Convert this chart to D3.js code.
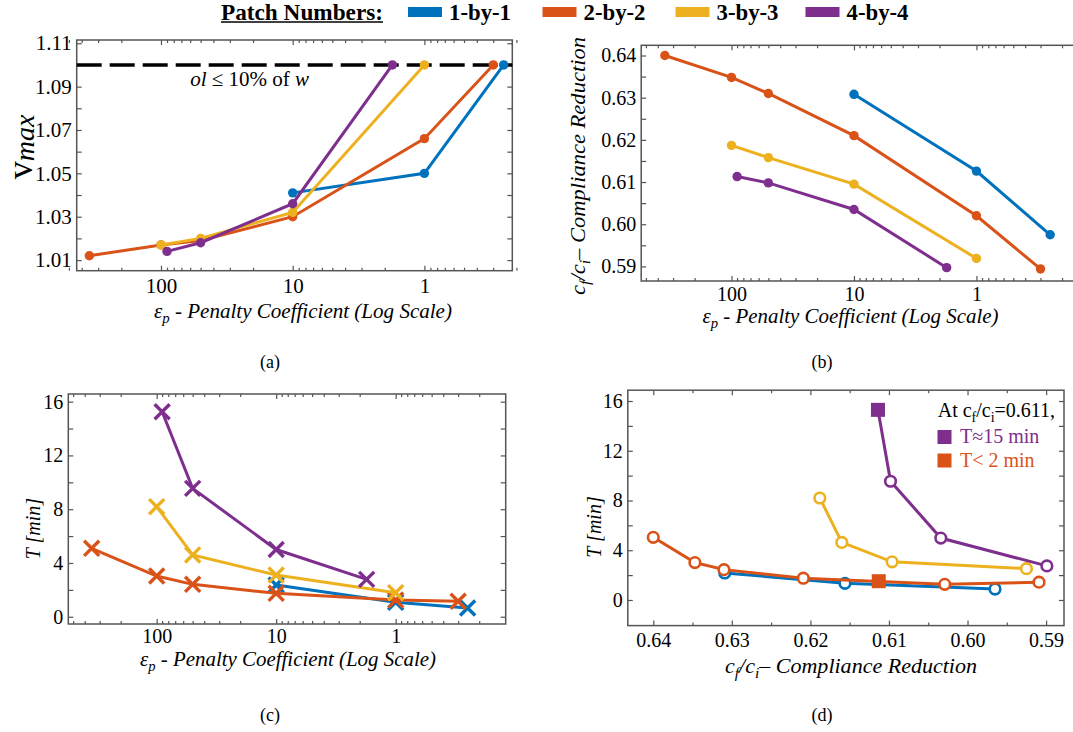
<!DOCTYPE html>
<html><head><meta charset="utf-8">
<script src="https://cdn.jsdelivr.net/npm/d3@7"></script>
<style>
body{margin:0;background:#fff;}
svg{display:block;}
svg text{font-family:"Liberation Serif","Times New Roman",serif !important;}
</style></head><body>
<svg id="chart" width="1073" height="732"></svg>
<script>
// ---------- data ----------
const patches = ["1-by-1", "2-by-2", "3-by-3", "4-by-4"];
const colors = ["#0072BD", "#D95319", "#EDB120", "#7E2F8E"];

// penalty coefficients per patch number
const penalty1 = [10, 1, 0.25];
const penalty2 = [350, 100, 50, 10, 1, 0.3];
const penalty3 = [100, 50, 10, 1];
const penalty4 = [90, 50, 10, 1.75];

// (a) maximum volume ratio
const vmax1 = [1.041, 1.050, 1.100];
const vmax2 = [1.012, 1.017, 1.019, 1.030, 1.066, 1.100];
const vmax3 = [1.017, 1.020, 1.032, 1.100];
const vmax4 = [1.014, 1.018, 1.036, 1.100];
const vLimit = 1.10;

// (b) compliance reduction
const comp1 = [0.6308, 0.6126, 0.5975];
const comp2 = [0.6400, 0.6348, 0.6310, 0.6210, 0.6020, 0.5894];
const comp3 = [0.6187, 0.6158, 0.6095, 0.5919];
const comp4 = [0.6113, 0.6098, 0.6035, 0.5897];

// (c) time [min]
const time1 = [2.36, 1.07, 0.65];
const time2 = [5.09, 3.03, 2.41, 1.74, 1.24, 1.15];
const time3 = [8.19, 4.60, 3.10, 1.79];
const time4 = [15.25, 9.55, 5.00, 2.78];

// (d) time vs compliance, as plotted
const dComp1 = [0.6309, 0.6156, 0.5965];
const dTime1 = [2.17, 1.34, 0.88];
const dComp2 = [0.6400, 0.6347, 0.6310, 0.6209, 0.6029, 0.5909];
const dTime2 = [5.04, 3.01, 2.44, 1.75, 1.26, 1.43];
const dComp3 = [0.6188, 0.6160, 0.6096, 0.5925];
const dTime3 = [8.20, 4.63, 3.07, 2.52];
const dComp4 = [0.6114, 0.6098, 0.6034, 0.5899];
const dTime4 = [15.29, 9.55, 4.98, 2.74];
const markComp = [0.6114, 0.6113];
const markTime = [15.29, 1.51];
const markColor = [3, 1];
const markLabels = ["T\u224815 min", "T< 2 min"];

// ticks
const logMajor = [100, 10, 1];
const logMinor = [500, 400, 300, 200, 90, 80, 70, 60, 50, 40, 30, 20, 9, 8, 7, 6, 5, 4, 3, 2,
  0.9, 0.8, 0.7, 0.6, 0.5, 0.4, 0.3, 0.2];
const aMajor = [1.01, 1.03, 1.05, 1.07, 1.09, 1.11];
const aMinor = [1.02, 1.04, 1.06, 1.08, 1.10];
const bMajor = [0.59, 0.60, 0.61, 0.62, 0.63, 0.64];
const bMinor = [0.595, 0.605, 0.615, 0.625, 0.635];
const tMajor = [0, 4, 8, 12, 16];
const tMinor = [2, 6, 10, 14];
const dMajor = [0.64, 0.63, 0.62, 0.61, 0.60, 0.59];
const dMinor = [0.635, 0.625, 0.615, 0.605, 0.595];

const penalties = [penalty1, penalty2, penalty3, penalty4];
const vmaxes = [vmax1, vmax2, vmax3, vmax4];
const comps = [comp1, comp2, comp3, comp4];
const times = [time1, time2, time3, time4];
const dComps = [dComp1, dComp2, dComp3, dComp4];
const dTimes = [dTime1, dTime2, dTime3, dTime4];

// ---------- drawing ----------
const svg = d3.select("#chart");
const FRAME = "#555";
const SERIF = "Liberation Serif, Times New Roman, serif";

function panel(o) {
  const g = svg.append("g");
  const x = (o.xLog ? d3.scaleLog() : d3.scaleLinear()).domain(o.xDomain).range([o.l, o.r]);
  const y = d3.scaleLinear().domain(o.yDomain).range([o.b, o.t]);
  const fs = o.fs || 20;
  function styl(ax) {
    ax.attr("font-family", SERIF).attr("font-size", fs);
    ax.select(".domain").remove();
    ax.selectAll(".tick line").attr("stroke", FRAME).attr("stroke-width", 1.2);
    ax.selectAll(".tick text").attr("fill", "#000");
  }
  const xb = g.append("g").attr("transform", `translate(0,${o.b})`)
    .call(d3.axisBottom(x).tickValues(o.xMajor).tickSize(-5).tickPadding(o.xPad || 7).tickFormat(o.xFmt));
  styl(xb);
  const xbm = g.append("g").attr("transform", `translate(0,${o.b})`)
    .call(d3.axisBottom(x).tickValues(o.xMinor).tickSize(-3).tickFormat(""));
  styl(xbm);
  const xt = g.append("g").attr("transform", `translate(0,${o.t})`)
    .call(d3.axisTop(x).tickValues(o.xMajor).tickSize(-5).tickFormat(""));
  styl(xt);
  const xtm = g.append("g").attr("transform", `translate(0,${o.t})`)
    .call(d3.axisTop(x).tickValues(o.xMinor).tickSize(-3).tickFormat(""));
  styl(xtm);
  const yl = g.append("g").attr("transform", `translate(${o.l},0)`)
    .call(d3.axisLeft(y).tickValues(o.yMajor).tickSize(-5).tickPadding(5).tickFormat(o.yFmt));
  styl(yl);
  const ylm = g.append("g").attr("transform", `translate(${o.l},0)`)
    .call(d3.axisLeft(y).tickValues(o.yMinor).tickSize(-5).tickFormat(""));
  styl(ylm);
  const yr = g.append("g").attr("transform", `translate(${o.r},0)`)
    .call(d3.axisRight(y).tickValues(o.yMajor.concat(o.yMinor)).tickSize(-5).tickFormat(""));
  styl(yr);
  g.append("rect").attr("x", o.l).attr("y", o.t).attr("width", o.r - o.l).attr("height", o.b - o.t)
    .attr("fill", "none").attr("stroke", FRAME).attr("stroke-width", 1.5);
  return { g, x, y };
}

function xLabel(g, cx, by, len) {
  const t = g.append("text").attr("x", cx).attr("y", by).attr("text-anchor", "middle")
    .style("font-size", "20px").style("font-style", "italic")
    .attr("textLength", len).attr("lengthAdjust", "spacingAndGlyphs");
  t.append("tspan").text("\u03b5");
  t.append("tspan").attr("dy", 5).style("font-size", "14px").text("p");
  t.append("tspan").attr("dy", -5).text(" - Penalty Coefficient (Log Scale)");
}
function compLabel(t) {
  t.append("tspan").text("c");
  t.append("tspan").attr("dy", 5).style("font-size", "14px").text("f");
  t.append("tspan").attr("dy", -5).text("/c");
  t.append("tspan").attr("dy", 5).style("font-size", "14px").text("i");
  t.append("tspan").attr("dy", -5).text("\u2013 Compliance Reduction");
}

const fmt2 = d3.format(".2f");
const logFmt = d => String(d);

// ---- (a) ----
const A = panel({ l: 76.7, r: 512.3, t: 40, b: 270.7, xLog: true, xDomain: [436.5, 0.215], yDomain: [1.0051, 1.1115],
  xMajor: logMajor, xMinor: logMinor, yMajor: aMajor, yMinor: aMinor, xFmt: logFmt, yFmt: fmt2, fs: 21, xPad: 7 });
A.g.append("line").attr("x1", A.x.range()[0]).attr("x2", A.x.range()[1])
  .attr("y1", A.y(vLimit)).attr("y2", A.y(vLimit))
  .attr("stroke", "#000").attr("stroke-width", 3.5).attr("stroke-dasharray", "25,8");
const ann = A.g.append("text").attr("x", A.x(60)).attr("y", A.y(1.0905)).style("font-size", "21px");
ann.append("tspan").style("font-style", "italic").text("ol");
ann.append("tspan").text(" \u2264 10% of ");
ann.append("tspan").style("font-style", "italic").text("w");
[0, 1, 2, 3].forEach(i => {
  const pts = penalties[i].map((p, j) => [A.x(p), A.y(vmaxes[i][j])]);
  A.g.append("path").attr("d", d3.line()(pts)).attr("fill", "none").attr("stroke", colors[i]).attr("stroke-width", 3);
  A.g.selectAll(null).data(pts).join("circle").attr("cx", d => d[0]).attr("cy", d => d[1]).attr("r", 4.7).attr("fill", colors[i]);
});
xLabel(A.g, 303, 318, 298);
const ay = A.g.append("text").attr("transform", "translate(32,147) rotate(-90)").attr("text-anchor", "middle");
ay.append("tspan").style("font-size", "36px").text("v");
ay.append("tspan").attr("dy", 2).style("font-size", "28px").style("font-style", "italic").text("max");

// ---- (b) ----
const B = panel({ l: 641.2, r: 1085, t: 45.3, b: 281, xLog: true, xDomain: [546, 0.1299], yDomain: [0.58654, 0.64242],
  xMajor: logMajor, xMinor: logMinor, yMajor: bMajor, yMinor: bMinor, xFmt: logFmt, yFmt: fmt2, fs: 20, xPad: 6 });
[0, 1, 2, 3].forEach(i => {
  const pts = penalties[i].map((p, j) => [B.x(p), B.y(comps[i][j])]);
  B.g.append("path").attr("d", d3.line()(pts)).attr("fill", "none").attr("stroke", colors[i]).attr("stroke-width", 3);
  B.g.selectAll(null).data(pts).join("circle").attr("cx", d => d[0]).attr("cy", d => d[1]).attr("r", 4.7).attr("fill", colors[i]);
});
xLabel(B.g, 850.5, 323, 296);
const by = B.g.append("text").attr("transform", "translate(585,166) rotate(-90)").attr("text-anchor", "middle")
  .style("font-size", "20px").style("font-style", "italic").attr("textLength", 258).attr("lengthAdjust", "spacingAndGlyphs");
compLabel(by);

// ---- (c) ----
const C = panel({ l: 68.3, r: 505.7, t: 394, b: 624, xLog: true, xDomain: [549, 0.120], yDomain: [-0.54, 16.57],
  xMajor: logMajor, xMinor: logMinor, yMajor: tMajor, yMinor: tMinor, xFmt: logFmt, yFmt: d3.format("d"), fs: 20, xPad: 5 });
const xMark = d3.symbol().type(d3.symbolX).size(150);
[0, 1, 2, 3].forEach(i => {
  const pts = penalties[i].map((p, j) => [C.x(p), C.y(times[i][j])]);
  C.g.append("path").attr("d", d3.line()(pts)).attr("fill", "none").attr("stroke", colors[i]).attr("stroke-width", 3);
  C.g.selectAll(null).data(pts).join("path").attr("d", xMark)
    .attr("transform", d => `translate(${d[0]},${d[1]})`)
    .attr("fill", "none").attr("stroke", colors[i]).attr("stroke-width", 3.4);
});
xLabel(C.g, 288, 666, 296);
C.g.append("text").attr("transform", "translate(40,528.7) rotate(-90)").attr("text-anchor", "middle")
  .style("font-size", "20px").style("font-style", "italic").text("T [min]");

// ---- (d) ----
const D = panel({ l: 627.8, r: 1064, t: 390.2, b: 625.6, xLog: false, xDomain: [0.64324, 0.58772], yDomain: [-2.06, 16.87],
  xMajor: dMajor, xMinor: dMinor, yMajor: tMajor, yMinor: tMinor, xFmt: fmt2, yFmt: d3.format("d"), fs: 20, xPad: 7 });
[0, 1, 2, 3].forEach(i => {
  const pts = dComps[i].map((c, j) => [D.x(c), D.y(dTimes[i][j])]);
  D.g.append("path").attr("d", d3.line()(pts)).attr("fill", "none").attr("stroke", colors[i]).attr("stroke-width", 3);
  D.g.selectAll(null).data(pts).join("circle").attr("cx", d => d[0]).attr("cy", d => d[1]).attr("r", 5.3)
    .attr("fill", "#fff").attr("stroke", colors[i]).attr("stroke-width", 2.6);
});
D.g.selectAll(null).data(markComp.map((c, k) => [D.x(c), D.y(markTime[k]), colors[markColor[k]]])).join("rect")
  .attr("x", d => d[0] - 7).attr("y", d => d[1] - 7).attr("width", 14).attr("height", 14).attr("fill", d => d[2]);
const dx = D.g.append("text").attr("x", 851).attr("y", 673).attr("text-anchor", "middle")
  .style("font-size", "20px").style("font-style", "italic").attr("textLength", 252).attr("lengthAdjust", "spacingAndGlyphs");
compLabel(dx);
D.g.append("text").attr("transform", "translate(601,527) rotate(-90)").attr("text-anchor", "middle")
  .style("font-size", "20px").style("font-style", "italic").text("T [min]");
// annotation legend
const lt = D.g.append("text").attr("x", 937.7).attr("y", 417).style("font-size", "20px");
lt.append("tspan").text("At c");
lt.append("tspan").attr("dy", 5).style("font-size", "14px").text("f");
lt.append("tspan").attr("dy", -5).text("/c");
lt.append("tspan").attr("dy", 5).style("font-size", "14px").text("i");
lt.append("tspan").attr("dy", -5).text("=0.611,");
markLabels.forEach((s, k) => {
  D.g.append("rect").attr("x", 937.5).attr("y", 430 + k * 23.5).attr("width", 14).attr("height", 14)
    .attr("fill", colors[markColor[k]]);
  D.g.append("text").attr("x", 960).attr("y", 443.3 + k * 24).style("font-size", "20px")
    .attr("fill", colors[markColor[k]]).text(s);
});

// ---- captions ----
[["(a)", 270, 368], ["(b)", 822, 368], ["(c)", 270, 721], ["(d)", 822, 721]].forEach(c => {
  svg.append("text").attr("x", c[1]).attr("y", c[2]).attr("text-anchor", "middle").style("font-size", "18px").text(c[0]);
});

// ---- top legend ----
const lg = svg.append("g");
lg.append("text").attr("x", 221).attr("y", 19.5).style("font-size", "24px").style("font-weight", "bold")
  .attr("textLength", 162).attr("lengthAdjust", "spacingAndGlyphs").text("Patch Numbers:");
lg.append("line").attr("x1", 221).attr("x2", 383).attr("y1", 22).attr("y2", 22).attr("stroke", "#000").attr("stroke-width", 1.5);
const legX = [408, 542.5, 675.5, 805.5];
patches.forEach((p, i) => {
  lg.append("rect").attr("x", legX[i]).attr("y", 7).attr("width", 34).attr("height", 10).attr("fill", colors[i]);
  lg.append("text").attr("x", legX[i] + 41).attr("y", 19.5).style("font-size", "24px").style("font-weight", "bold")
    .attr("textLength", 62).attr("lengthAdjust", "spacingAndGlyphs").text(p);
});
</script>
</body></html>
